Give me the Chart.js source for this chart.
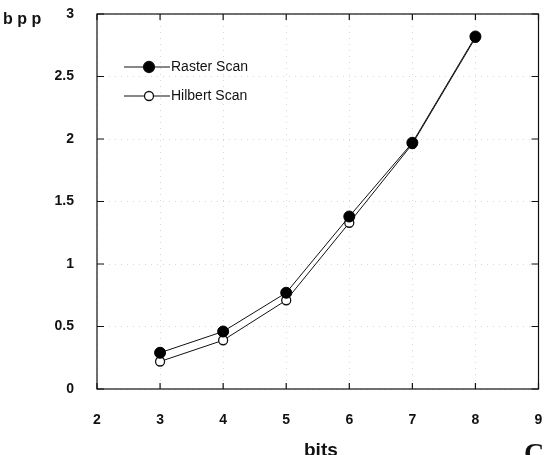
<!DOCTYPE html>
<html>
<head>
<meta charset="utf-8">
<script src="https://cdn.jsdelivr.net/npm/chart.js@4"></script>
<style>
  html, body { margin: 0; padding: 0; background: #fff; }
  #wrap { width: 545px; height: 455px; }
</style>
</head>
<body>
<div id="wrap"><canvas id="chart"></canvas></div>
<script>
const bits = [3, 4, 5, 6, 7, 8];
const rasterScan = [0.29, 0.46, 0.77, 1.38, 1.97, 2.82];
const hilbertScan = [0.22, 0.39, 0.71, 1.33, 1.96, 2.81];
const seriesNames = ['Raster Scan', 'Hilbert Scan'];
const xTicks = [2, 3, 4, 5, 6, 7, 8, 9];
const yTicks = [0, 0.5, 1, 1.5, 2, 2.5, 3];

const toPoints = (vals) => bits.map((b, i) => ({ x: b, y: vals[i] }));
const font = { family: 'Liberation Sans, Arial, sans-serif', size: 14, weight: 'bold' };

// frame, inward ticks, legend and free text
const extras = {
  id: 'extras',
  afterDraw(chart) {
    const c = chart.ctx, a = chart.chartArea;
    const sx = chart.scales.x, sy = chart.scales.y;
    c.save();
    c.strokeStyle = '#111';
    c.lineWidth = 1.2;
    c.strokeRect(a.left, a.top, a.right - a.left, a.bottom - a.top);
    c.beginPath();
    xTicks.forEach(v => {
      const px = sx.getPixelForValue(v);
      c.moveTo(px, a.bottom); c.lineTo(px, a.bottom - 6);
      c.moveTo(px, a.top); c.lineTo(px, a.top + 6);
    });
    yTicks.forEach(v => {
      const py = sy.getPixelForValue(v);
      c.moveTo(a.left, py); c.lineTo(a.left + 7, py);
      c.moveTo(a.right, py); c.lineTo(a.right - 7, py);
    });
    c.stroke();

    // legend
    const lx = a.left + 27, rows = [67, 96];
    rows.forEach((y, i) => {
      c.beginPath();
      c.strokeStyle = '#111';
      c.lineWidth = 1;
      c.moveTo(lx, y); c.lineTo(lx + 46, y);
      c.stroke();
      c.beginPath();
      c.arc(lx + 25, y, i === 0 ? 5.5 : 4.5, 0, Math.PI * 2);
      c.fillStyle = i === 0 ? '#000' : '#fff';
      c.fill();
      c.lineWidth = 1.3;
      c.stroke();
      c.fillStyle = '#111';
      c.font = '14px Liberation Sans, Arial, sans-serif';
      c.textBaseline = 'middle';
      c.fillText(seriesNames[i], lx + 47, y);
    });

    c.fillStyle = '#111';
    c.textBaseline = 'alphabetic';
    c.font = 'bold 16px Liberation Sans, Arial, sans-serif';
    c.fillText('b p p', 3, 24);
    c.font = 'bold 19px Liberation Sans, Arial, sans-serif';
    c.fillText('bits', 304, 456);
    c.font = 'bold 28px Liberation Serif, Times New Roman, serif';
    c.fillText('C', 524, 462);
    c.restore();
  }
};

const gridOpts = { color: '#d8d8d8', drawTicks: false };
const borderOpts = { display: false, dash: [1, 5] };

new Chart(document.getElementById('chart'), {
  type: 'scatter',
  data: {
    datasets: [{
      label: seriesNames[0],
      data: toPoints(rasterScan),
      showLine: true,
      borderColor: '#111',
      borderWidth: 1,
      pointRadius: 5.5,
      pointBackgroundColor: '#000',
      pointBorderColor: '#000'
    }, {
      label: seriesNames[1],
      data: toPoints(hilbertScan),
      showLine: true,
      borderColor: '#111',
      borderWidth: 1,
      pointRadius: 4.5,
      pointBackgroundColor: '#fff',
      pointBorderColor: '#111',
      pointBorderWidth: 1.3
    }]
  },
  options: {
    responsive: true,
    maintainAspectRatio: false,
    animation: false,
    layout: { padding: { left: 0, right: 4, top: 14, bottom: 0 } },
    plugins: { legend: { display: false }, tooltip: { enabled: false } },
    scales: {
      x: {
        type: 'linear', min: 2, max: 9,
        afterFit: s => { s.height = 66; s.paddingLeft = 0; s.paddingRight = 0; },
        afterBuildTicks: s => { s.ticks = xTicks.map(v => ({ value: v })); },
        ticks: { font: font, color: '#111', padding: 23 },
        grid: gridOpts,
        border: borderOpts
      },
      y: {
        min: 0, max: 3,
        afterFit: s => { s.width = 97; s.paddingTop = 0; s.paddingBottom = 0; },
        afterBuildTicks: s => { s.ticks = yTicks.map(v => ({ value: v })); },
        ticks: { font: font, color: '#111', padding: 23, callback: v => String(v) },
        grid: gridOpts,
        border: borderOpts
      }
    }
  },
  plugins: [extras]
});
</script>
</body>
</html>
